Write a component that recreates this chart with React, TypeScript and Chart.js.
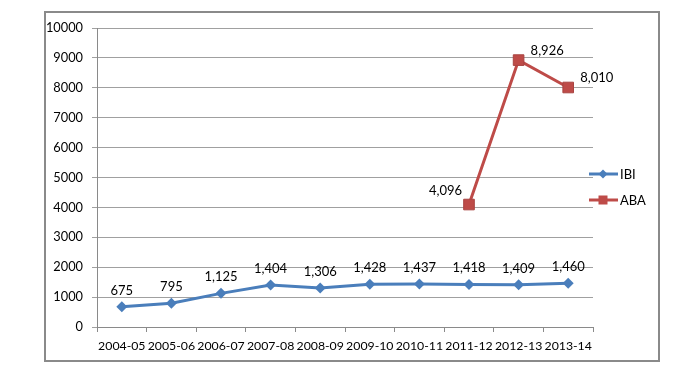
import { useEffect, useRef } from "react";
import { Chart, registerables } from "chart.js";

Chart.register(...registerables);

const categories = [
  "2004-05", "2005-06", "2006-07", "2007-08", "2008-09",
  "2009-10", "2010-11", "2011-12", "2012-13", "2013-14",
];
const ibiValues = [675, 795, 1125, 1404, 1306, 1428, 1437, 1418, 1409, 1460];
const abaValues = [null, null, null, null, null, null, null, 4096, 8926, 8010];
const seriesNames = ["IBI", "ABA"];
const yMin = 0;
const yMax = 10000;
const yStep = 1000;

const BLUE = "#4a7ebb";
const RED = "#be4b48";
const FONT = "Lato, 'Liberation Sans', sans-serif";

const fmt = (v: number) => v.toLocaleString("en-US");

const decorPlugin = {
  id: "decor",
  beforeDraw(chart: any) {
    const ctx = chart.ctx;
    ctx.save();
    ctx.fillStyle = "#ffffff";
    ctx.fillRect(0, 0, chart.width, chart.height);
    ctx.strokeStyle = "#8a8a8a";
    ctx.lineWidth = 2;
    ctx.strokeRect(45, 12, 614, 349);
    ctx.restore();
  },
  afterDatasetsDraw(chart: any) {
    const ctx = chart.ctx;
    ctx.save();
    ctx.font = "13px " + FONT;
    ctx.fillStyle = "#000";
    const m0 = chart.getDatasetMeta(0);
    m0.data.forEach((pt: any, i: number) => {
      const v = ibiValues[i];
      if (v == null) return;
      ctx.textAlign = "center";
      ctx.textBaseline = "bottom";
      ctx.fillText(fmt(v), pt.x, pt.y - 10);
    });
    const m1 = chart.getDatasetMeta(1);
    let first = true;
    m1.data.forEach((pt: any, i: number) => {
      const v = abaValues[i];
      if (v == null) return;
      ctx.textBaseline = "bottom";
      if (first) {
        ctx.textAlign = "right";
        ctx.fillText(fmt(v), pt.x - 7, pt.y - 7);
        first = false;
      } else {
        ctx.textAlign = "left";
        ctx.fillText(fmt(v), pt.x + 12, pt.y - 3);
      }
    });
    const items = [
      { name: seriesNames[0], color: BLUE, shape: "diamond", y: 174 },
      { name: seriesNames[1], color: RED, shape: "square", y: 200 },
    ];
    items.forEach((it) => {
      ctx.strokeStyle = it.color;
      ctx.lineWidth = 3;
      ctx.beginPath();
      ctx.moveTo(589, it.y);
      ctx.lineTo(618, it.y);
      ctx.stroke();
      ctx.fillStyle = it.color;
      const cx = 603;
      if (it.shape === "diamond") {
        ctx.beginPath();
        ctx.moveTo(cx, it.y - 4.5);
        ctx.lineTo(cx + 4.5, it.y);
        ctx.lineTo(cx, it.y + 4.5);
        ctx.lineTo(cx - 4.5, it.y);
        ctx.closePath();
        ctx.fill();
      } else {
        ctx.fillRect(cx - 4.5, it.y - 4.5, 9, 9);
      }
      ctx.fillStyle = "#000";
      ctx.textAlign = "left";
      ctx.textBaseline = "middle";
      ctx.fillText(it.name, 620, it.y + 1);
    });
    ctx.restore();
  },
};

export default function App() {
  const ref = useRef<HTMLCanvasElement>(null);
  useEffect(() => {
    if (!ref.current) return;
    const chart = new Chart(ref.current, {
      type: "line",
      data: {
        labels: categories,
        datasets: [
          {
            label: seriesNames[0],
            data: ibiValues,
            borderColor: BLUE,
            backgroundColor: BLUE,
            borderWidth: 3,
            pointStyle: "rectRot",
            pointRadius: 5.5,
            pointBorderWidth: 0,
            pointBackgroundColor: BLUE,
            tension: 0,
          },
          {
            label: seriesNames[1],
            data: abaValues as any,
            borderColor: RED,
            backgroundColor: RED,
            borderWidth: 3,
            pointStyle: "rect",
            pointRadius: 7.5,
            pointBorderWidth: 1,
            pointBorderColor: "#a94340",
            pointBackgroundColor: RED,
            tension: 0,
            spanGaps: false,
          },
        ],
      },
      options: {
        responsive: false,
        animation: false,
        layout: { padding: { left: 0, right: 107, top: 28, bottom: 13 } },
        plugins: {
          legend: { display: false },
          tooltip: { enabled: false },
        },
        scales: {
          x: {
            offset: true,
            afterFit(s: any) {
              s.height = 30;
            },
            grid: {
              offset: true,
              drawOnChartArea: false,
              drawTicks: true,
              tickLength: 5,
              color: "#8a8a8a",
            },
            border: { color: "#8a8a8a", width: 1 },
            ticks: {
              color: "#000",
              font: { family: FONT, size: 12.3 },
              padding: 7,
              maxRotation: 0,
              autoSkip: false,
            },
          },
          y: {
            min: yMin,
            max: yMax,
            afterFit(s: any) {
              s.width = 97;
            },
            grid: {
              color: "#a0a0a0",
              tickLength: 5,
              drawTicks: true,
            },
            border: { color: "#8a8a8a", width: 1 },
            ticks: {
              stepSize: yStep,
              color: "#000",
              font: { family: FONT, size: 12.8 },
              padding: 9,
              callback: (v: any) => String(v),
            },
          },
        },
      },
      plugins: [decorPlugin],
    });
    return () => chart.destroy();
  }, []);
  return (
    <div style={{ position: "absolute", left: 0, top: 0, width: 700, height: 370 }}>
      <canvas ref={ref} width={700} height={370} />
    </div>
  );
}
